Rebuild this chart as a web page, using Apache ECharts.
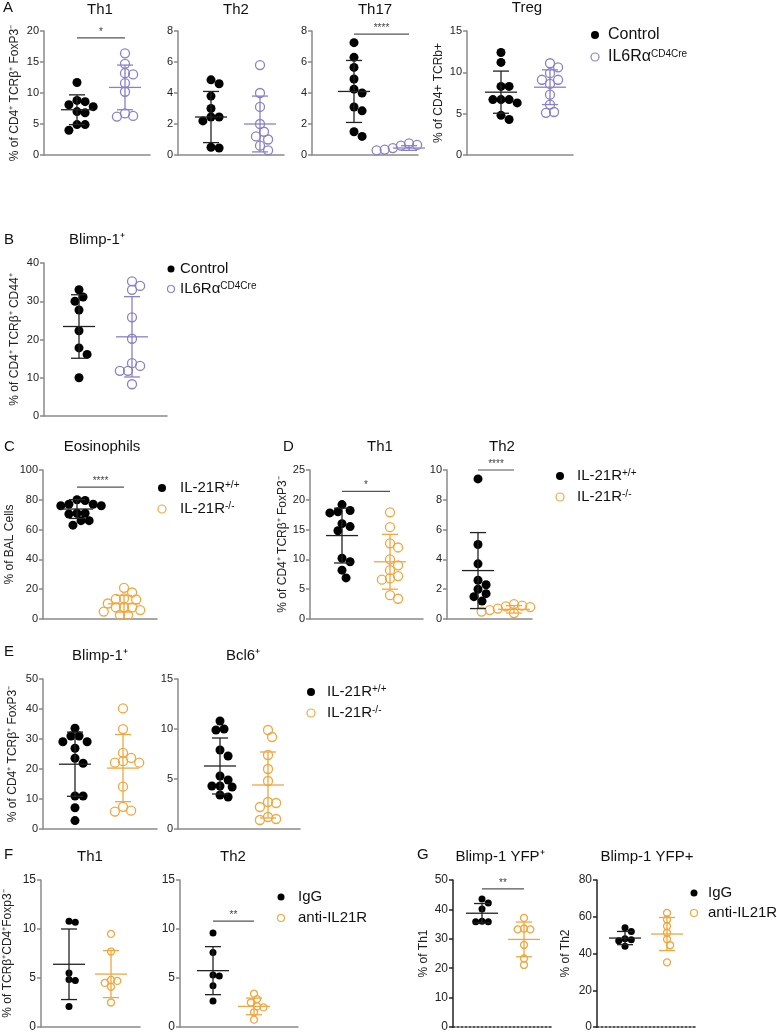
<!DOCTYPE html>
<html><head><meta charset="utf-8">
<script src="https://cdn.jsdelivr.net/npm/echarts@6/dist/echarts.min.js"></script>
<style>html,body{margin:0;padding:0;background:#fff}#c{width:777px;height:1033px}</style>
</head><body><div id="c"></div><script>
// ---------------- DATA ----------------
// Panel A
const aTh1Ctrl = [11.7, 8.8, 8.6, 8.1, 7.8, 7.0, 6.8, 4.9, 4.9, 4.0];
const aTh1Ko   = [16.4, 14.7, 13.2, 13.0, 11.6, 10.2, 6.7, 6.3, 6.2];
const aTh2Ctrl = [4.85, 4.6, 3.8, 3.0, 2.45, 2.45, 2.2, 0.5, 0.45];
const aTh2Ko   = [5.8, 4.0, 3.1, 2.0, 1.5, 1.2, 1.0, 0.6, 0.3];
const aTh17Ctrl = [7.25, 6.3, 5.65, 4.9, 4.25, 4.0, 3.1, 2.85, 1.5, 1.2];
const aTh17Ko   = [0.75, 0.65, 0.6, 0.5, 0.45, 0.4, 0.35, 0.3, 0.3, 0.25];
const aTregCtrl = [12.4, 11.2, 8.3, 8.3, 6.7, 6.7, 6.7, 6.3, 4.8, 4.3];
const aTregKo   = [11.1, 10.6, 9.9, 9.1, 9.1, 8.6, 7.3, 6.1, 5.2, 5.1];
const aMeanCtrl = [7.3, 2.45, 4.1, 7.6];
const aSdCtrl   = [2.4, 1.65, 2.0, 2.55];
const aMeanKo   = [10.9, 2.0, 0.45, 8.2];
const aSdKo     = [3.6, 1.8, 0.15, 2.1];
// Panel B
const bCtrl = [33.0, 31.1, 30.0, 27.7, 22.3, 17.8, 16.1, 10.0];
const bKo   = [35.2, 34.0, 33.0, 25.8, 20.2, 13.8, 13.1, 11.8, 11.8, 8.3];
const bMean = [23.4, 20.7];
const bSd   = [8.3, 10.5];
// Panel C
const cWt = [80, 79.5, 77, 77, 76, 76, 71, 71, 70.5, 66, 66, 63];
const cKo = [20.9, 17.8, 13.8, 13.5, 13.1, 10.4, 7.8, 7.8, 7.8, 6.0, 5.0, 2.7, 2.7];
const cMean = [73.8, 10.2];
const cSd   = [6.3, 5.6];
// Panel D
const dTh1Wt = [19.2, 18.2, 18.0, 17.8, 16.0, 15.5, 14.8, 10.2, 9.6, 8.2, 6.9];
const dTh1Ko = [17.9, 15.4, 12.7, 12.0, 10.0, 9.0, 8.2, 7.2, 6.8, 6.6, 4.0, 3.4];
const dTh2Wt = [9.4, 5.0, 3.7, 2.6, 2.3, 2.0, 1.7, 1.5, 1.2];
const dTh2Ko = [1.0, 0.9, 0.85, 0.8, 0.7, 0.7, 0.6, 0.6, 0.5, 0.5, 0.4];
const dMean = [[14.0, 9.6], [3.25, 0.65]];
const dSd   = [[4.6, 4.6], [2.55, 0.25]];
// Panel E
const eBlimpWt = [33.6, 31.0, 31.0, 29.1, 29.1, 26.9, 23.6, 21.9, 11.0, 11.0, 7.1, 2.8];
const eBlimpKo = [40.2, 33.3, 25.4, 23.7, 22.6, 22.1, 22.1, 14.1, 7.4, 6.1, 5.8];
const eBcl6Wt  = [10.8, 10.0, 9.9, 7.9, 7.3, 5.3, 4.9, 4.3, 4.3, 4.2, 3.4, 3.2];
const eBcl6Ko  = [9.9, 9.2, 7.4, 6.0, 4.8, 2.7, 2.6, 2.2, 1.2, 1.0, 0.9];
const eMean = [[21.6, 20.3], [6.3, 4.4]];
const eSd   = [[10.7, 11.2], [2.8, 3.3]];
// Panel F
const fTh1IgG  = [10.8, 10.7, 5.5, 4.85, 4.75, 2.1];
const fTh1Anti = [9.5, 7.7, 4.8, 4.7, 4.5, 4.1, 2.5];
const fTh2IgG  = [9.6, 7.6, 5.3, 5.2, 4.2, 2.65];
const fTh2Anti = [3.4, 2.85, 2.5, 2.1, 2.0, 1.5, 0.75];
const fMean = [[6.4, 5.4], [5.75, 2.1]];
const fSd   = [[3.6, 2.4], [2.45, 0.85]];
// Panel G
const gTh1IgG  = [43.5, 42.2, 40.1, 36.0, 35.8, 35.8];
const gTh1Anti = [37.1, 33.5, 33.2, 33.2, 27.9, 23.3, 21.1];
const gTh2IgG  = [54.0, 52.0, 48.0, 47.5, 47.0, 44.0];
const gTh2Anti = [62.1, 58.5, 54.9, 51.3, 47.7, 44.5, 35.2];
const gMean = [[38.7, 29.8], [48.4, 50.6]];
const gSd   = [[3.3, 5.9], [3.6, 9.0]];
// axis ranges / ticks
const yMaxList  = [20, 8, 8, 15, 40, 100, 25, 10, 50, 15, 15, 15, 50, 80];
const yStepList = [5, 2, 2, 5, 10, 20, 5, 2, 10, 5, 5, 5, 10, 20];
// significance labels and heights
const sigText = {A1:'*', A3:'****', C:'****', D1:'*', D2:'****', F2:'**', G1:'**'};
const sigY    = {A1:18.9, A3:7.8, C:88.5, D1:21.4, D2:10, F2:10.8, G1:47};
// text
const titles = [
  ['A', 'Th1'], ['A', 'Th2'], ['A', 'Th17'], ['A', 'Treg'], ['B', 'Blimp-1⁺'], ['C', 'Eosinophils'],
  ['D', 'Th1'], ['D', 'Th2'], ['E', 'Blimp-1⁺'], ['E', 'Bcl6⁺'], ['F', 'Th1'], ['F', 'Th2'],
  ['G', 'Blimp-1 YFP⁺'], ['G', 'Blimp-1 YFP+']
];
const legendA = ['Control', 'IL6Rα{s|CD4Cre}'];
const legendIL21 = ['IL-21R{s|+/+}', 'IL-21R{s|-/-}'];
const legendAb = ['IgG', 'anti-IL21R'];

// ---------------- STYLE ----------------
const FONT = '"Liberation Sans", Arial, Helvetica, sans-serif';
const BLACK = '#000000', PURPLE = '#8a80c8', ORANGE = '#f2a640';
const AX = '#8a8a8a', AXG = '#222222';

function grp(vals, mean, sd, color, filled){ return {vals, mean, sd, color, filled}; }

const P = [
  {id:'A1', left:44, top:31, width:106, height:124, x0:33, dx:48, size:9, tf:11, name:'% of CD4⁺ TCRβ⁺ FoxP3⁻', gap:23,
   groups:[grp(aTh1Ctrl,aMeanCtrl[0],aSdCtrl[0],BLACK,true), grp(aTh1Ko,aMeanKo[0],aSdKo[0],PURPLE,false)], tx:100, ty:10},
  {id:'A2', left:178, top:31, width:106, height:124, x0:33, dx:49, size:9, tf:11, name:'', gap:20,
   groups:[grp(aTh2Ctrl,aMeanCtrl[1],aSdCtrl[1],BLACK,true), grp(aTh2Ko,aMeanKo[1],aSdKo[1],PURPLE,false)], tx:236, ty:10},
  {id:'A3', left:312, top:31, width:106, height:124, x0:42, dx:55, size:9, tf:11, name:'', gap:20,
   groups:[grp(aTh17Ctrl,aMeanCtrl[2],aSdCtrl[2],BLACK,true), grp(aTh17Ko,aMeanKo[2],aSdKo[2],PURPLE,false)], tx:375, ty:10},
  {id:'A4', left:467, top:31, width:106, height:124, x0:34, dx:49, size:9, tf:11, name:'% of CD4+ TCRb+', gap:22,
   groups:[grp(aTregCtrl,aMeanCtrl[3],aSdCtrl[3],BLACK,true), grp(aTregKo,aMeanKo[3],aSdKo[3],PURPLE,false)], tx:527, ty:8},
  {id:'B', left:44, top:263, width:123, height:153, x0:35, dx:53, size:9, tf:11, name:'% of CD4⁺ TCRβ⁺ CD44⁺', gap:23,
   groups:[grp(bCtrl,bMean[0],bSd[0],BLACK,true), grp(bKo,bMean[1],bSd[1],PURPLE,false)], tx:97, ty:240},
  {id:'C', left:43, top:470, width:114, height:149, x0:34, dx:47, size:9, tf:11, name:'% of BAL Cells', gap:26,
   groups:[grp(cWt,cMean[0],cSd[0],BLACK,true), grp(cKo,cMean[1],cSd[1],ORANGE,false)], tx:102, ty:447},
  {id:'D1', left:310, top:470, width:113, height:149, x0:32, dx:48, size:9, tf:11, name:'% of CD4⁺ TCRβ⁺ FoxP3⁻', gap:21,
   groups:[grp(dTh1Wt,dMean[0][0],dSd[0][0],BLACK,true), grp(dTh1Ko,dMean[0][1],dSd[0][1],ORANGE,false)], tx:380, ty:447},
  {id:'D2', left:447, top:470, width:85, height:149, x0:31, dx:36, size:9, tf:11, name:'', gap:20,
   groups:[grp(dTh2Wt,dMean[1][0],dSd[1][0],BLACK,true), grp(dTh2Ko,dMean[1][1],dSd[1][1],ORANGE,false)], tx:502, ty:447},
  {id:'E1', left:43, top:679, width:114, height:150, x0:32, dx:48, size:9, tf:11, name:'% of CD4⁺ TCRβ⁺ FoxP3⁻', gap:24,
   groups:[grp(eBlimpWt,eMean[0][0],eSd[0][0],BLACK,true), grp(eBlimpKo,eMean[0][1],eSd[0][1],ORANGE,false)], tx:100, ty:656},
  {id:'E2', left:178, top:679, width:122, height:150, x0:42, dx:48, size:9, tf:11, name:'', gap:20,
   groups:[grp(eBcl6Wt,eMean[1][0],eSd[1][0],BLACK,true), grp(eBcl6Ko,eMean[1][1],eSd[1][1],ORANGE,false)], tx:243, ty:656},
  {id:'F1', left:41, top:880, width:99, height:149, x0:28, dx:42, size:7, tf:12, name:'% of TCRβ⁺CD4⁺Foxp3⁻', gap:27,
   groups:[grp(fTh1IgG,fMean[0][0],fSd[0][0],BLACK,true), grp(fTh1Anti,fMean[0][1],fSd[0][1],ORANGE,false)], tx:90, ty:857},
  {id:'F2', left:180, top:880, width:118, height:149, x0:33, dx:41, size:7, tf:12, name:'', gap:20,
   groups:[grp(fTh2IgG,fMean[1][0],fSd[1][0],BLACK,true), grp(fTh2Anti,fMean[1][1],fSd[1][1],ORANGE,false)], tx:233, ty:857},
  {id:'G1', left:453, top:880, width:100, height:149, x0:29, dx:42, size:7, tf:12, name:'% of Th1', gap:23, dark:true,
   groups:[grp(gTh1IgG,gMean[0][0],gSd[0][0],BLACK,true), grp(gTh1Anti,gMean[0][1],gSd[0][1],ORANGE,false)], tx:500, ty:857},
  {id:'G2', left:597, top:880, width:98, height:149, x0:28, dx:42, size:7, tf:12, name:'% of Th2', gap:25, dark:true,
   groups:[grp(gTh2IgG,gMean[1][0],gSd[1][0],BLACK,true), grp(gTh2Anti,gMean[1][1],gSd[1][1],ORANGE,false)], tx:647, ty:857}
];

// beeswarm layout (pixel space) for jittered points
function swarm(vals, pxPerY, d, dx, gi){
  const idx = vals.map((v,i)=>i).sort((a,b)=>vals[b]-vals[a]);
  const placed = [], out = new Array(vals.length);
  const minD2 = d*d*0.8;
  idx.forEach(i=>{
    const py = vals[i]*pxPerY;
    for (let k=0;k<60;k++){
      const m = k===0?0:(k%2?Math.ceil(k/2):-Math.ceil(k/2));
      const ox = m*d*0.45;
      if (placed.every(p=>(p[0]-ox)*(p[0]-ox)+(p[1]-py)*(p[1]-py) >= minD2)){
        placed.push([ox,py]); out[i]=[gi+ox/dx, vals[i]]; break;
      }
    }
  });
  return out;
}

const grids=[], xAxes=[], yAxes=[], series=[], graphics=[];
P.forEach((p,i)=>{
  const ac = p.dark?AXG:AX;
  grids.push({left:p.left, top:p.top, width:p.width, height:p.height});
  xAxes.push({type:'value', gridIndex:i, min:-p.x0/p.dx, max:(p.width-p.x0)/p.dx,
    axisLine:{show:true,onZero:false,lineStyle:{color:ac,width:1.5,type:p.dark?[2,2]:'solid'}},
    axisTick:{show:false}, axisLabel:{show:false}, splitLine:{show:false}});
  yAxes.push({type:'value', gridIndex:i, min:0, max:yMaxList[i], interval:yStepList[i],
    name:p.name, nameLocation:'middle', nameGap:p.gap, nameRotate:90,
    nameTextStyle:{fontSize:12,color:'#222',fontFamily:FONT},
    axisLine:{show:true,onZero:false,lineStyle:{color:ac,width:1.5}},
    axisTick:{show:true,length:4,lineStyle:{color:ac,width:1.5}},
    axisLabel:{fontSize:p.tf,color:'#222',margin:5,fontFamily:FONT},
    splitLine:{show:false}});
  const pxPerY = p.height / yMaxList[i];
  p.groups.forEach((g,gi)=>{
    series.push({type:'scatter', xAxisIndex:i, yAxisIndex:i, silent:true, z:3,
      data: swarm(g.vals, pxPerY, p.size, p.dx, gi), symbol:'circle', symbolSize:p.size,
      itemStyle: g.filled ? {color:g.color, opacity:1} : {color:'rgba(255,255,255,0)', borderColor:g.color, borderWidth:1.3, opacity:1}});
  });
  const cols = p.groups.map(g=>g.filled?'#222222':g.color);
  series.push({type:'custom', xAxisIndex:i, yAxisIndex:i, silent:true, z:4,
    data: p.groups.map((g,gi)=>[gi, g.mean, g.sd]),
    renderItem:(params, api)=>{
      const gi=api.value(0), m=api.value(1), sd=api.value(2);
      const c=api.coord([gi,m]), t=api.coord([gi,m+sd]), b=api.coord([gi,Math.max(0,m-sd)]);
      const st={stroke:cols[params.dataIndex], lineWidth:1.3};
      return {type:'group', children:[
        {type:'line', shape:{x1:c[0]-16,y1:c[1],x2:c[0]+16,y2:c[1]}, style:st},
        {type:'line', shape:{x1:t[0],y1:t[1],x2:b[0],y2:b[1]}, style:st},
        {type:'line', shape:{x1:t[0]-8,y1:t[1],x2:t[0]+8,y2:t[1]}, style:st},
        {type:'line', shape:{x1:b[0]-8,y1:b[1],x2:b[0]+8,y2:b[1]}, style:st}
      ]};
    }});
  if (sigText[p.id]){
    const txt = sigText[p.id];
    series.push({type:'custom', xAxisIndex:i, yAxisIndex:i, silent:true, z:4,
      data:[[0,1,sigY[p.id]]],
      renderItem:(params, api)=>{
        const a=api.coord([api.value(0),api.value(2)]), b=api.coord([api.value(1),api.value(2)]);
        return {type:'group', children:[
          {type:'line', shape:{x1:a[0],y1:a[1],x2:b[0],y2:b[1]}, style:{stroke:'#555',lineWidth:1.2}},
          {type:'text', style:{text:txt, x:(a[0]+b[0])/2, y:a[1]-1, textAlign:'center', textVerticalAlign:'bottom', fill:'#444', font:'10px '+FONT}}
        ]};
      }});
  }
  graphics.push({type:'text', x:p.tx, y:p.ty, style:{text:titles[i][1], fill:'#111', font:'15px '+FONT, textAlign:'center', textVerticalAlign:'middle'}});
});

// panel letters
[['A',3,8],['B',4,240],['C',4,447],['D',283,447],['E',4,652],['F',4,855],['G',417,855]].forEach(l=>{
  graphics.push({type:'text', x:l[1], y:l[2], style:{text:l[0], fill:'#111', font:'15px '+FONT, textVerticalAlign:'middle'}});
});

// legends
function legend(mx, tx, ys, labels, colors, size, fs){
  labels.forEach((lab,k)=>{
    const filled = k===0;
    graphics.push({type:'circle', shape:{cx:mx, cy:ys[k], r:size/2},
      style: filled?{fill:colors[k]}:{fill:'none', stroke:colors[k], lineWidth:1.2}});
    graphics.push({type:'text', x:tx, y:ys[k], style:{text:lab, fill:'#111', font:fs+'px '+FONT, textVerticalAlign:'middle',
      rich:{s:{fontSize:10, verticalAlign:'top', fill:'#111', fontFamily:FONT}}}});
  });
}
legend(595, 608, [35,57], legendA, [BLACK,PURPLE], 8, 16);
legend(171, 180, [269,289], legendA, [BLACK,PURPLE], 7, 15);
legend(162, 180, [488,509], legendIL21, [BLACK,ORANGE], 8, 15);
legend(560, 577, [476,497], legendIL21, [BLACK,ORANGE], 8, 15);
legend(311, 327, [692,713], legendIL21, [BLACK,ORANGE], 8, 15);
legend(281, 298, [897,918], legendAb, [BLACK,ORANGE], 7, 15);
legend(694, 708, [893,913], legendAb, [BLACK,ORANGE], 7, 15);

const chart = echarts.init(document.getElementById('c'), null, {renderer:'canvas'});
chart.setOption({backgroundColor:'#fff', animation:false, grid:grids, xAxis:xAxes, yAxis:yAxes, series, graphic:graphics});
</script></body></html>
